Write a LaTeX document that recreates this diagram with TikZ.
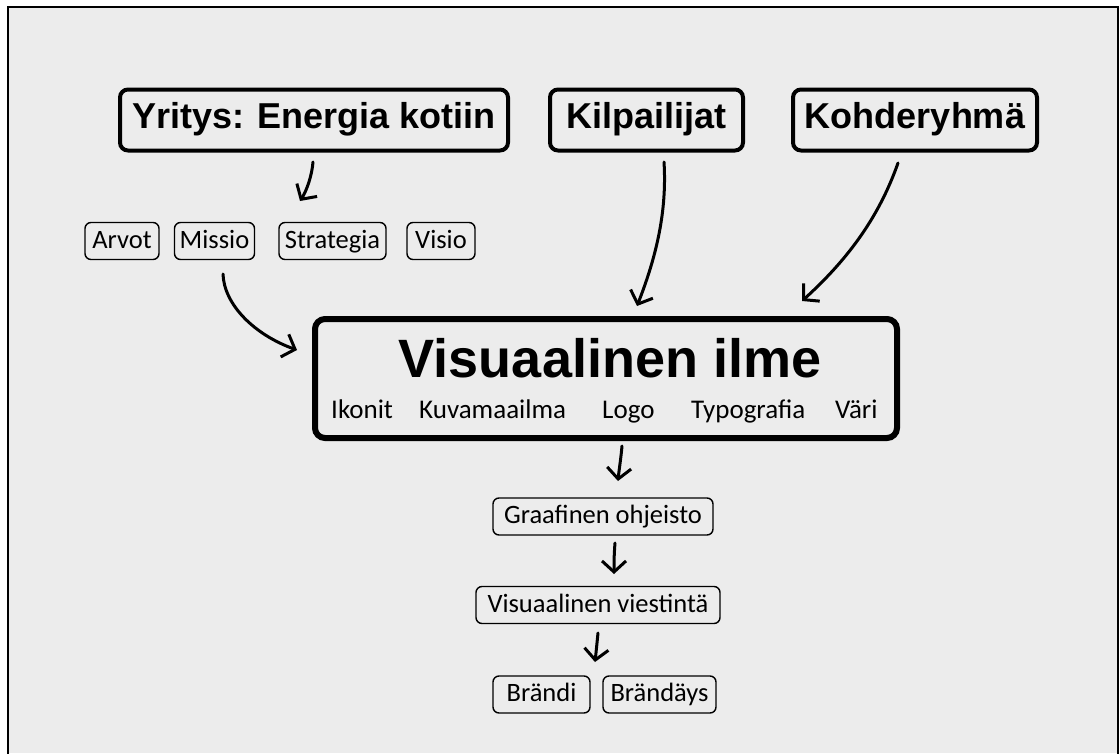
\documentclass[tikz,border=0pt]{standalone}
\usepackage{fontspec}
\setmainfont{Carlito}
\newfontfamily\headfont{Liberation Sans}
\usetikzlibrary{arrows.meta}
\definecolor{bgc}{HTML}{ECECEC}
\tikzset{
  bigbox/.style={draw=black, line width=4, rounded corners=8, inner sep=0pt,
    minimum height=61, font=\headfont\bfseries\fontsize{36}{40}\selectfont,
    text height=26, text depth=10},
  smallbox/.style={draw=black, line width=1.4, rounded corners=6, inner sep=0pt,
    minimum height=37, font=\fontsize{26.5}{30}\selectfont,
    text height=19, text depth=5},
  mainbox/.style={draw=black, line width=6, rounded corners=10, inner sep=0pt,
    minimum width=582, minimum height=119},
  subitem/.style={anchor=base west, inner sep=0pt, font=\fontsize{27}{30}\selectfont},
  arr/.style={line width=3, line cap=round, line join=round,
    -{Straight Barb[length=11pt,width=24pt,line width=3pt]}}
}
\begin{document}
\begin{tikzpicture}[x=1pt,y=-1pt]
\useasboundingbox (0,0) rectangle (1120,753);
\fill[white] (0,0) rectangle (1120,753);
\fill[bgc] (8,7) rectangle (1118,753);
\draw[line width=2.2] (8,760) -- (8,7) -- (1118,7) -- (1118,760);

% top boxes
\node[bigbox, minimum width=388] (yr) at (314,120) {Yritys: Energia kotiin};
\node[bigbox, minimum width=193] (ki) at (646.5,120) {Kilpailijat};
\node[bigbox, minimum width=244] (ko) at (915,120) {Kohderyhmä};

% small boxes row
\node[smallbox, minimum width=74] (ar) at (122,241) {Arvot};
\node[smallbox, minimum width=80] (mi) at (214.5,241) {Missio};
\node[smallbox, minimum width=107] (st) at (332.5,241) {Strategia};
\node[smallbox, minimum width=68] (vi) at (441,241) {Visio};

% main box
\node[mainbox] (vm) at (606,378.5) {};
\node[anchor=base, inner sep=0pt, font=\headfont\bfseries\fontsize{54}{60}\selectfont] (vmt) at (610,377) {Visuaalinen ilme};
\node[subitem] (ik) at (331,418) {Ikonit};
\node[subitem] (ku) at (419,418) {Kuvamaailma};
\node[subitem] (lo) at (602,418) {Logo};
\node[subitem] (ty) at (691,418) {Typografia};
\node[subitem] (va) at (835,418) {Väri};

% bottom boxes
\node[smallbox, minimum width=220] (go) at (603,516.5) {Graafinen ohjeisto};
\node[smallbox, minimum width=244] (vv) at (598,605) {Visuaalinen viestintä};
\node[smallbox, minimum width=97] (br) at (541.5,694.5) {Brändi};
\node[smallbox, minimum width=113] (bd) at (659.5,694.5) {Brändäys};

% arrow end points
\coordinate (a1s) at (313,162);  \coordinate (a1e) at (300,201);
\coordinate (a2s) at (664,162);  \coordinate (a2e) at (637,306);
\coordinate (a3s) at (898,163);  \coordinate (a3e) at (802,301);
\coordinate (a4s) at (223,274);  \coordinate (a4e) at (297,350);
\coordinate (a5s) at (622,446);  \coordinate (a5e) at (618,481);
\coordinate (a6s) at (615,543);  \coordinate (a6e) at (614,574);
\coordinate (a7s) at (598,633);  \coordinate (a7e) at (595,662);

\draw[arr] (a1s) .. controls (312,175) and (307,190) .. (a1e);
\draw[arr] (a2s) .. controls (667,210) and (657,255) .. (a2e);
\draw[arr] (a3s) .. controls (878,220) and (845,262) .. (a3e);
\draw[arr] (a4s) .. controls (224,305) and (255,335) .. (a4e);
\draw[arr] (a5s) .. controls (621,458) and (619,470) .. (a5e);
\draw[arr] (a6s) .. controls (614,555) and (614,565) .. (a6e);
\draw[arr] (a7s) .. controls (597,643) and (596,653) .. (a7e);
\end{tikzpicture}
\end{document}
